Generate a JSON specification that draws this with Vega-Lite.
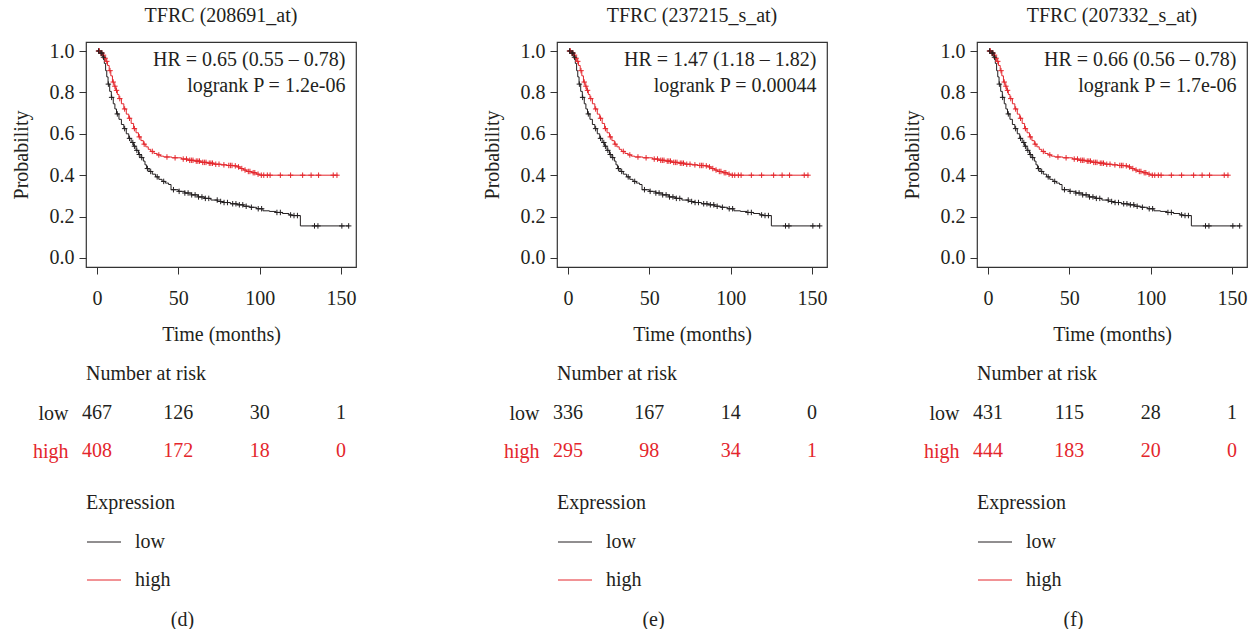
{
"$schema": "https://vega.github.io/schema/vega-lite/v6.json",
"background": "white",
"padding": {"left": 10, "top": 5, "right": 0, "bottom": 0},
"config": {
 "font": "Liberation Serif",
 "view": {"stroke": "#333333", "strokeWidth": 1.2},
 "axis": {"labelFont": "Liberation Serif", "labelFontSize": 20, "labelColor": "#231f20", "titleFont": "Liberation Serif", "titleFontSize": 20, "titleFontWeight": "normal", "titleColor": "#231f20", "tickColor": "#333333", "tickSize": 7, "domain": false, "grid": false},
 "title": {"font": "Liberation Serif", "fontSize": 20, "fontWeight": "normal", "color": "#231f20"},
 "text": {"font": "Liberation Serif", "fontSize": 20}
},
"datasets": {
 "curve": [
  {"g":"high","t":0,"s":1.0},{"g":"high","t":2,"s":0.99},{"g":"high","t":3.5,"s":0.98},{"g":"high","t":4.5,"s":0.965},{"g":"high","t":5.5,"s":0.95},{"g":"high","t":6.5,"s":0.93},{"g":"high","t":7.5,"s":0.905},{"g":"high","t":8.5,"s":0.88},{"g":"high","t":9.5,"s":0.85},{"g":"high","t":10.5,"s":0.83},{"g":"high","t":11.5,"s":0.81},{"g":"high","t":12.5,"s":0.79},{"g":"high","t":13.5,"s":0.77},{"g":"high","t":15,"s":0.745},{"g":"high","t":16.5,"s":0.72},{"g":"high","t":18,"s":0.695},{"g":"high","t":19.5,"s":0.675},{"g":"high","t":21,"s":0.65},{"g":"high","t":22.5,"s":0.625},{"g":"high","t":24,"s":0.605},{"g":"high","t":25.5,"s":0.585},{"g":"high","t":27,"s":0.567},{"g":"high","t":28.5,"s":0.55},{"g":"high","t":30,"s":0.537},{"g":"high","t":31.5,"s":0.525},{"g":"high","t":33,"s":0.515},{"g":"high","t":35,"s":0.505},{"g":"high","t":37,"s":0.498},{"g":"high","t":39,"s":0.492},{"g":"high","t":41,"s":0.488},{"g":"high","t":46,"s":0.484},{"g":"high","t":52,"s":0.478},{"g":"high","t":56,"s":0.472},{"g":"high","t":60,"s":0.468},{"g":"high","t":64,"s":0.462},{"g":"high","t":68,"s":0.458},{"g":"high","t":72,"s":0.453},{"g":"high","t":76,"s":0.45},{"g":"high","t":80,"s":0.447},{"g":"high","t":84,"s":0.445},{"g":"high","t":86,"s":0.44},{"g":"high","t":88,"s":0.432},{"g":"high","t":90,"s":0.425},{"g":"high","t":92,"s":0.418},{"g":"high","t":95,"s":0.412},{"g":"high","t":98,"s":0.405},{"g":"high","t":100,"s":0.4},{"g":"high","t":148,"s":0.4},
  {"g":"low","t":0,"s":1.0},{"g":"low","t":2,"s":0.99},{"g":"low","t":3.5,"s":0.97},{"g":"low","t":4.5,"s":0.94},{"g":"low","t":5.3,"s":0.905},{"g":"low","t":6,"s":0.875},{"g":"low","t":6.8,"s":0.84},{"g":"low","t":7.8,"s":0.805},{"g":"low","t":8.8,"s":0.776},{"g":"low","t":10,"s":0.745},{"g":"low","t":11,"s":0.72},{"g":"low","t":12,"s":0.696},{"g":"low","t":13.5,"s":0.67},{"g":"low","t":15,"s":0.645},{"g":"low","t":16.5,"s":0.625},{"g":"low","t":18,"s":0.6},{"g":"low","t":19.5,"s":0.578},{"g":"low","t":21,"s":0.558},{"g":"low","t":22.5,"s":0.54},{"g":"low","t":24,"s":0.52},{"g":"low","t":25.5,"s":0.5},{"g":"low","t":27,"s":0.485},{"g":"low","t":28.5,"s":0.468},{"g":"low","t":29.5,"s":0.45},{"g":"low","t":30.5,"s":0.432},{"g":"low","t":32,"s":0.418},{"g":"low","t":34,"s":0.405},{"g":"low","t":36,"s":0.392},{"g":"low","t":38,"s":0.38},{"g":"low","t":40,"s":0.37},{"g":"low","t":42,"s":0.362},{"g":"low","t":44,"s":0.355},{"g":"low","t":45.5,"s":0.33},{"g":"low","t":50,"s":0.322},{"g":"low","t":54,"s":0.314},{"g":"low","t":58,"s":0.305},{"g":"low","t":62,"s":0.295},{"g":"low","t":66,"s":0.288},{"g":"low","t":70,"s":0.28},{"g":"low","t":74,"s":0.273},{"g":"low","t":78,"s":0.268},{"g":"low","t":82,"s":0.262},{"g":"low","t":86,"s":0.257},{"g":"low","t":90,"s":0.25},{"g":"low","t":94,"s":0.245},{"g":"low","t":98,"s":0.238},{"g":"low","t":102,"s":0.228},{"g":"low","t":106,"s":0.225},{"g":"low","t":110,"s":0.22},{"g":"low","t":114,"s":0.215},{"g":"low","t":118,"s":0.208},{"g":"low","t":120,"s":0.205},{"g":"low","t":125,"s":0.155},{"g":"low","t":155,"s":0.155}
 ],
 "censor": [
  {"g":"high","t":1,"s":1.0},{"g":"high","t":1.5,"s":1.0},{"g":"high","t":2.5,"s":0.99},{"g":"high","t":3,"s":0.99},{"g":"high","t":4,"s":0.98},{"g":"high","t":5,"s":0.965},{"g":"high","t":6,"s":0.95},{"g":"high","t":8,"s":0.905},{"g":"high","t":10,"s":0.85},{"g":"high","t":11,"s":0.83},{"g":"high","t":12,"s":0.81},{"g":"high","t":14,"s":0.77},{"g":"high","t":17,"s":0.72},{"g":"high","t":20,"s":0.675},{"g":"high","t":23,"s":0.625},{"g":"high","t":26,"s":0.585},{"g":"high","t":29,"s":0.55},{"g":"high","t":34,"s":0.515},{"g":"high","t":38,"s":0.498},{"g":"high","t":43,"s":0.488},{"g":"high","t":48,"s":0.484},{"g":"high","t":53,"s":0.478},{"g":"high","t":55,"s":0.478},{"g":"high","t":57,"s":0.472},{"g":"high","t":58,"s":0.472},{"g":"high","t":59,"s":0.472},{"g":"high","t":61,"s":0.468},{"g":"high","t":62,"s":0.468},{"g":"high","t":63,"s":0.468},{"g":"high","t":65,"s":0.462},{"g":"high","t":66,"s":0.462},{"g":"high","t":67,"s":0.462},{"g":"high","t":69,"s":0.458},{"g":"high","t":70,"s":0.458},{"g":"high","t":71,"s":0.458},{"g":"high","t":73,"s":0.453},{"g":"high","t":75,"s":0.453},{"g":"high","t":78,"s":0.45},{"g":"high","t":81,"s":0.447},{"g":"high","t":82,"s":0.447},{"g":"high","t":83,"s":0.447},{"g":"high","t":85,"s":0.445},{"g":"high","t":87,"s":0.44},{"g":"high","t":89,"s":0.432},{"g":"high","t":91,"s":0.425},{"g":"high","t":93,"s":0.418},{"g":"high","t":94,"s":0.418},{"g":"high","t":96,"s":0.412},{"g":"high","t":97,"s":0.412},{"g":"high","t":99,"s":0.405},{"g":"high","t":101,"s":0.4},{"g":"high","t":102.5,"s":0.4},{"g":"high","t":104.7,"s":0.4},{"g":"high","t":106.4,"s":0.4},{"g":"high","t":112.7,"s":0.4},{"g":"high","t":119,"s":0.4},{"g":"high","t":126.4,"s":0.4},{"g":"high","t":131.6,"s":0.4},{"g":"high","t":136.2,"s":0.4},{"g":"high","t":145.2,"s":0.4},{"g":"high","t":147.5,"s":0.4},
  {"g":"low","t":1,"s":1.0},{"g":"low","t":2.5,"s":0.99},{"g":"low","t":3,"s":0.99},{"g":"low","t":4,"s":0.97},{"g":"low","t":7,"s":0.84},{"g":"low","t":9,"s":0.776},{"g":"low","t":12.5,"s":0.696},{"g":"low","t":17,"s":0.625},{"g":"low","t":20,"s":0.578},{"g":"low","t":22,"s":0.558},{"g":"low","t":23,"s":0.54},{"g":"low","t":24.5,"s":0.52},{"g":"low","t":26,"s":0.5},{"g":"low","t":27.5,"s":0.485},{"g":"low","t":31,"s":0.432},{"g":"low","t":33,"s":0.418},{"g":"low","t":37,"s":0.392},{"g":"low","t":41,"s":0.37},{"g":"low","t":47,"s":0.33},{"g":"low","t":50.5,"s":0.322},{"g":"low","t":54,"s":0.314},{"g":"low","t":56,"s":0.314},{"g":"low","t":58.2,"s":0.305},{"g":"low","t":60.3,"s":0.305},{"g":"low","t":62.4,"s":0.295},{"g":"low","t":64.5,"s":0.295},{"g":"low","t":66.6,"s":0.288},{"g":"low","t":68.7,"s":0.288},{"g":"low","t":73.9,"s":0.28},{"g":"low","t":76,"s":0.273},{"g":"low","t":78.1,"s":0.268},{"g":"low","t":80.2,"s":0.268},{"g":"low","t":83.4,"s":0.262},{"g":"low","t":85.4,"s":0.262},{"g":"low","t":87.5,"s":0.257},{"g":"low","t":89.6,"s":0.257},{"g":"low","t":91.7,"s":0.25},{"g":"low","t":94.9,"s":0.245},{"g":"low","t":99.1,"s":0.238},{"g":"low","t":101.2,"s":0.238},{"g":"low","t":110.6,"s":0.22},{"g":"low","t":112.7,"s":0.22},{"g":"low","t":119,"s":0.208},{"g":"low","t":121.1,"s":0.205},{"g":"low","t":123.2,"s":0.205},{"g":"low","t":133.7,"s":0.155},{"g":"low","t":135.8,"s":0.155},{"g":"low","t":150.5,"s":0.155},{"g":"low","t":154.7,"s":0.155}
 ],
 "groups": [{"g": "low"}, {"g": "high"}]
},
"spacing": 20,
"resolve": {"scale": {"color": "independent", "x": "independent", "y": "independent"}},
"hconcat": [
 {
  "bounds": "flush",
  "spacing": 127,
  "resolve": {"scale": {"color": "independent", "x": "independent", "y": "independent"}},
  "vconcat": [
   {
    "width": 270, "height": 225,
    "title": {"text": "TFRC (208691_at)", "frame": "group", "anchor": "middle", "offset": 15},
    "layer": [
     {"data": {"name": "curve"},
      "mark": {"type": "line", "interpolate": "step-after", "strokeWidth": 1},
      "encoding": {
       "x": {"field": "t", "type": "quantitative", "scale": {"domain": [-6.76, 159.2], "nice": false, "zero": false}, "axis": {"values": [0, 50, 100, 150], "title": "Time (months)", "labelPadding": 14, "titlePadding": 16, "labelAngle": 0}},
       "y": {"field": "s", "type": "quantitative", "scale": {"domain": [-0.0435, 1.0435], "nice": false, "zero": false}, "axis": {"values": [0, 0.2, 0.4, 0.6, 0.8, 1], "format": ".1f", "title": "Probability", "labelPadding": 5, "titlePadding": 18}},
       "color": {"field": "g", "type": "nominal", "scale": {"domain": ["low", "high"], "range": ["#231f20", "#e4262c"]}, "legend": null}
      }},
     {"data": {"name": "censor"},
      "mark": {"type": "point", "shape": "M-1,0H1M0,-1V1", "size": 30, "filled": false, "strokeWidth": 1, "opacity": 1},
      "encoding": {
       "x": {"field": "t", "type": "quantitative"},
       "y": {"field": "s", "type": "quantitative"},
       "color": {"condition": {"test": "datum.g === 'high'", "value": "#e4262c"}, "value": "#231f20"}
      }},
     {"data": {"values": [{"label": "HR = 0.65 (0.55 – 0.78)\nlogrank P = 1.2e-06"}]},
      "mark": {"type": "text", "align": "right", "baseline": "top", "lineBreak": "\n", "lineHeight": 26, "fontSize": 20, "color": "#231f20"},
      "encoding": {"x": {"datum": 152.7}, "y": {"datum": 1.005}, "text": {"field": "label"}}}
    ]
   },
   {
    "bounds": "flush",
    "spacing": 53,
    "resolve": {"scale": {"color": "independent", "x": "independent", "y": "independent"}},
    "vconcat": [
     {
      "width": 270, "height": 76,
      "view": {"stroke": null},
      "title": {"text": "Number at risk", "anchor": "start", "frame": "group", "offset": 10},
      "data": {"values": [{"g":"low","t":0,"n":"467"},{"g":"low","t":50,"n":"126"},{"g":"low","t":100,"n":"30"},{"g":"low","t":150,"n":"1"},{"g":"high","t":0,"n":"408"},{"g":"high","t":50,"n":"172"},{"g":"high","t":100,"n":"18"},{"g":"high","t":150,"n":"0"}]},
      "mark": {"type": "text", "fontSize": 20},
      "encoding": {
       "x": {"field": "t", "type": "quantitative", "scale": {"domain": [-6.76, 159.2], "nice": false, "zero": false}, "axis": null},
       "y": {"field": "g", "type": "nominal", "scale": {"type": "point", "domain": ["low", "high"], "padding": 0.5}, "axis": {"title": null, "ticks": false, "domain": false, "labelPadding": 18, "labelColor": {"condition": {"test": "datum.value === 'high'", "value": "#e4262c"}, "value": "#231f20"}}},
       "text": {"field": "n"},
       "color": {"condition": {"test": "datum.g === 'high'", "value": "#e4262c"}, "value": "#231f20"}
      }
     },
     {
      "width": 270, "height": 76,
      "view": {"stroke": null},
      "title": {"text": "Expression", "anchor": "start", "frame": "group", "offset": 10},
      "data": {"name": "groups"},
      "layer": [
       {"mark": {"type": "rule", "strokeWidth": 1},
        "encoding": {
         "x": {"datum": -6.15, "type": "quantitative", "scale": {"domain": [-6.76, 159.2], "nice": false, "zero": false}, "axis": {"domain": false, "ticks": false, "labels": false, "title": "(d)", "titleX": 96, "titleY": 20, "titleBaseline": "middle", "titleAlign": "center"}},
         "x2": {"datum": 14.76},
         "y": {"field": "g", "type": "nominal", "scale": {"type": "point", "domain": ["low", "high"], "padding": 0.5}, "axis": null},
         "color": {"condition": {"test": "datum.g === 'high'", "value": "#e4262c"}, "value": "#231f20"}
        }},
       {"mark": {"type": "text", "align": "left", "baseline": "middle", "fontSize": 20, "color": "#231f20"},
        "encoding": {
         "x": {"datum": 23.35, "type": "quantitative"},
         "y": {"field": "g", "type": "nominal"},
         "text": {"field": "g"}
        }}
      ]
     }
    ]
   }
  ]
 },
 {"width": 84, "height": 10, "view": {"stroke": null}, "data": {"values": []}, "mark": "point", "encoding": {}},
 {
  "bounds": "flush",
  "spacing": 127,
  "resolve": {"scale": {"color": "independent", "x": "independent", "y": "independent"}},
  "vconcat": [
   {
    "width": 270, "height": 225,
    "title": {"text": "TFRC (237215_s_at)", "frame": "group", "anchor": "middle", "offset": 15},
    "layer": [
     {"data": {"name": "curve"},
      "mark": {"type": "line", "interpolate": "step-after", "strokeWidth": 1},
      "encoding": {
       "x": {"field": "t", "type": "quantitative", "scale": {"domain": [-6.76, 159.2], "nice": false, "zero": false}, "axis": {"values": [0, 50, 100, 150], "title": "Time (months)", "labelPadding": 14, "titlePadding": 16, "labelAngle": 0}},
       "y": {"field": "s", "type": "quantitative", "scale": {"domain": [-0.0435, 1.0435], "nice": false, "zero": false}, "axis": {"values": [0, 0.2, 0.4, 0.6, 0.8, 1], "format": ".1f", "title": "Probability", "labelPadding": 5, "titlePadding": 18}},
       "color": {"field": "g", "type": "nominal", "scale": {"domain": ["low", "high"], "range": ["#231f20", "#e4262c"]}, "legend": null}
      }},
     {"data": {"name": "censor"},
      "mark": {"type": "point", "shape": "M-1,0H1M0,-1V1", "size": 30, "filled": false, "strokeWidth": 1, "opacity": 1},
      "encoding": {
       "x": {"field": "t", "type": "quantitative"},
       "y": {"field": "s", "type": "quantitative"},
       "color": {"condition": {"test": "datum.g === 'high'", "value": "#e4262c"}, "value": "#231f20"}
      }},
     {"data": {"values": [{"label": "HR = 1.47 (1.18 – 1.82)\nlogrank P = 0.00044"}]},
      "mark": {"type": "text", "align": "right", "baseline": "top", "lineBreak": "\n", "lineHeight": 26, "fontSize": 20, "color": "#231f20"},
      "encoding": {"x": {"datum": 152.7}, "y": {"datum": 1.005}, "text": {"field": "label"}}}
    ]
   },
   {
    "bounds": "flush",
    "spacing": 53,
    "resolve": {"scale": {"color": "independent", "x": "independent", "y": "independent"}},
    "vconcat": [
     {
      "width": 270, "height": 76,
      "view": {"stroke": null},
      "title": {"text": "Number at risk", "anchor": "start", "frame": "group", "offset": 10},
      "data": {"values": [{"g":"low","t":0,"n":"336"},{"g":"low","t":50,"n":"167"},{"g":"low","t":100,"n":"14"},{"g":"low","t":150,"n":"0"},{"g":"high","t":0,"n":"295"},{"g":"high","t":50,"n":"98"},{"g":"high","t":100,"n":"34"},{"g":"high","t":150,"n":"1"}]},
      "mark": {"type": "text", "fontSize": 20},
      "encoding": {
       "x": {"field": "t", "type": "quantitative", "scale": {"domain": [-6.76, 159.2], "nice": false, "zero": false}, "axis": null},
       "y": {"field": "g", "type": "nominal", "scale": {"type": "point", "domain": ["low", "high"], "padding": 0.5}, "axis": {"title": null, "ticks": false, "domain": false, "labelPadding": 18, "labelColor": {"condition": {"test": "datum.value === 'high'", "value": "#e4262c"}, "value": "#231f20"}}},
       "text": {"field": "n"},
       "color": {"condition": {"test": "datum.g === 'high'", "value": "#e4262c"}, "value": "#231f20"}
      }
     },
     {
      "width": 270, "height": 76,
      "view": {"stroke": null},
      "title": {"text": "Expression", "anchor": "start", "frame": "group", "offset": 10},
      "data": {"name": "groups"},
      "layer": [
       {"mark": {"type": "rule", "strokeWidth": 1},
        "encoding": {
         "x": {"datum": -6.15, "type": "quantitative", "scale": {"domain": [-6.76, 159.2], "nice": false, "zero": false}, "axis": {"domain": false, "ticks": false, "labels": false, "title": "(e)", "titleX": 96, "titleY": 20, "titleBaseline": "middle", "titleAlign": "center"}},
         "x2": {"datum": 14.76},
         "y": {"field": "g", "type": "nominal", "scale": {"type": "point", "domain": ["low", "high"], "padding": 0.5}, "axis": null},
         "color": {"condition": {"test": "datum.g === 'high'", "value": "#e4262c"}, "value": "#231f20"}
        }},
       {"mark": {"type": "text", "align": "left", "baseline": "middle", "fontSize": 20, "color": "#231f20"},
        "encoding": {
         "x": {"datum": 23.35, "type": "quantitative"},
         "y": {"field": "g", "type": "nominal"},
         "text": {"field": "g"}
        }}
      ]
     }
    ]
   }
  ]
 },
 {"width": 33, "height": 10, "view": {"stroke": null}, "data": {"values": []}, "mark": "point", "encoding": {}},
 {
  "bounds": "flush",
  "spacing": 127,
  "resolve": {"scale": {"color": "independent", "x": "independent", "y": "independent"}},
  "vconcat": [
   {
    "width": 270, "height": 225,
    "title": {"text": "TFRC (207332_s_at)", "frame": "group", "anchor": "middle", "offset": 15},
    "layer": [
     {"data": {"name": "curve"},
      "mark": {"type": "line", "interpolate": "step-after", "strokeWidth": 1},
      "encoding": {
       "x": {"field": "t", "type": "quantitative", "scale": {"domain": [-6.76, 159.2], "nice": false, "zero": false}, "axis": {"values": [0, 50, 100, 150], "title": "Time (months)", "labelPadding": 14, "titlePadding": 16, "labelAngle": 0}},
       "y": {"field": "s", "type": "quantitative", "scale": {"domain": [-0.0435, 1.0435], "nice": false, "zero": false}, "axis": {"values": [0, 0.2, 0.4, 0.6, 0.8, 1], "format": ".1f", "title": "Probability", "labelPadding": 5, "titlePadding": 18}},
       "color": {"field": "g", "type": "nominal", "scale": {"domain": ["low", "high"], "range": ["#231f20", "#e4262c"]}, "legend": null}
      }},
     {"data": {"name": "censor"},
      "mark": {"type": "point", "shape": "M-1,0H1M0,-1V1", "size": 30, "filled": false, "strokeWidth": 1, "opacity": 1},
      "encoding": {
       "x": {"field": "t", "type": "quantitative"},
       "y": {"field": "s", "type": "quantitative"},
       "color": {"condition": {"test": "datum.g === 'high'", "value": "#e4262c"}, "value": "#231f20"}
      }},
     {"data": {"values": [{"label": "HR = 0.66 (0.56 – 0.78)\nlogrank P = 1.7e-06"}]},
      "mark": {"type": "text", "align": "right", "baseline": "top", "lineBreak": "\n", "lineHeight": 26, "fontSize": 20, "color": "#231f20"},
      "encoding": {"x": {"datum": 152.7}, "y": {"datum": 1.005}, "text": {"field": "label"}}}
    ]
   },
   {
    "bounds": "flush",
    "spacing": 53,
    "resolve": {"scale": {"color": "independent", "x": "independent", "y": "independent"}},
    "vconcat": [
     {
      "width": 270, "height": 76,
      "view": {"stroke": null},
      "title": {"text": "Number at risk", "anchor": "start", "frame": "group", "offset": 10},
      "data": {"values": [{"g":"low","t":0,"n":"431"},{"g":"low","t":50,"n":"115"},{"g":"low","t":100,"n":"28"},{"g":"low","t":150,"n":"1"},{"g":"high","t":0,"n":"444"},{"g":"high","t":50,"n":"183"},{"g":"high","t":100,"n":"20"},{"g":"high","t":150,"n":"0"}]},
      "mark": {"type": "text", "fontSize": 20},
      "encoding": {
       "x": {"field": "t", "type": "quantitative", "scale": {"domain": [-6.76, 159.2], "nice": false, "zero": false}, "axis": null},
       "y": {"field": "g", "type": "nominal", "scale": {"type": "point", "domain": ["low", "high"], "padding": 0.5}, "axis": {"title": null, "ticks": false, "domain": false, "labelPadding": 18, "labelColor": {"condition": {"test": "datum.value === 'high'", "value": "#e4262c"}, "value": "#231f20"}}},
       "text": {"field": "n"},
       "color": {"condition": {"test": "datum.g === 'high'", "value": "#e4262c"}, "value": "#231f20"}
      }
     },
     {
      "width": 270, "height": 76,
      "view": {"stroke": null},
      "title": {"text": "Expression", "anchor": "start", "frame": "group", "offset": 10},
      "data": {"name": "groups"},
      "layer": [
       {"mark": {"type": "rule", "strokeWidth": 1},
        "encoding": {
         "x": {"datum": -6.15, "type": "quantitative", "scale": {"domain": [-6.76, 159.2], "nice": false, "zero": false}, "axis": {"domain": false, "ticks": false, "labels": false, "title": "(f)", "titleX": 96, "titleY": 20, "titleBaseline": "middle", "titleAlign": "center"}},
         "x2": {"datum": 14.76},
         "y": {"field": "g", "type": "nominal", "scale": {"type": "point", "domain": ["low", "high"], "padding": 0.5}, "axis": null},
         "color": {"condition": {"test": "datum.g === 'high'", "value": "#e4262c"}, "value": "#231f20"}
        }},
       {"mark": {"type": "text", "align": "left", "baseline": "middle", "fontSize": 20, "color": "#231f20"},
        "encoding": {
         "x": {"datum": 23.35, "type": "quantitative"},
         "y": {"field": "g", "type": "nominal"},
         "text": {"field": "g"}
        }}
      ]
     }
    ]
   }
  ]
 }
]
}
